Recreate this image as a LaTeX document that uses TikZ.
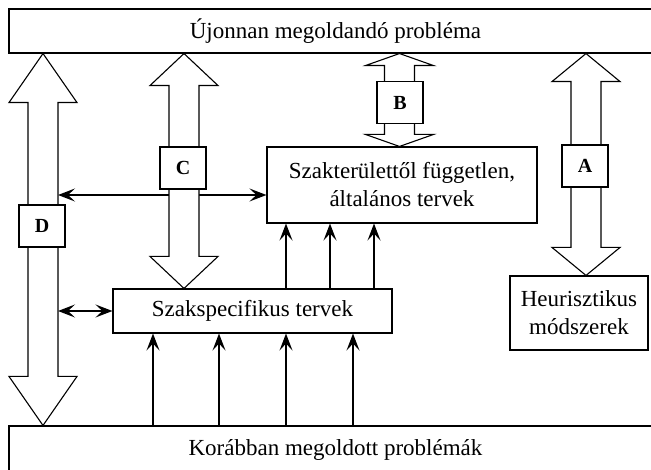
\documentclass[tikz,border=0pt]{standalone}
\usepackage{fontspec}
\setmainfont{Liberation Serif}
\usetikzlibrary{positioning,arrows.meta,calc}

% broad two-headed arrow: x, upper node, lower node, head length
\newcommand{\bigarrow}[4]{%
  \coordinate (tipA) at (#1,0 |- #2.south);
  \coordinate (tipB) at (#1,0 |- #3.north);
  \draw[block] (tipA) -- ++(34,#4) -- ++(-19,0) -- ($(tipB)+(15,-#4)$)
    -- ++(19,0) -- (tipB) -- ++(-34,-#4) -- ++(19,0)
    -- ($(tipA)+(-15,#4)$) -- ++(-19,0) -- cycle;
}

\begin{document}
\begin{tikzpicture}[x=1pt, y=-1pt,
  box/.style={draw, line width=1.1pt, align=center, inner sep=0pt,
    font=\fontsize{23}{28}\selectfont},
  tag/.style={draw, fill=white, line width=1.1pt, minimum width=46pt,
    minimum height=42pt, inner sep=0pt, font=\fontsize{20}{24}\selectfont\bfseries},
  link/.style={line width=1.3pt},
  block/.style={draw, fill=white, line width=1.1pt, line join=miter},
  >={Stealth[length=17pt, width=13pt, inset=7pt]}
]
\useasboundingbox (0,0) rectangle (651,470);

\node[box, minimum width=653pt, minimum height=44pt] (new) at (335.5,31)
  {Újonnan megoldandó probléma};
\node[box, minimum width=653pt, minimum height=48pt] (old) at (335.5,450)
  {Korábban megoldott problémák};
\node[box, minimum width=270pt, minimum height=76pt] (general) at (402,185)
  {Szakterülettől független,\\ általános tervek};
\node[box, minimum width=279pt, minimum height=44pt] (spec) at (252.5,311)
  {Szakspecifikus tervek};
\node[box, minimum width=138pt, minimum height=74pt] (heur) at (579,313)
  {Heurisztikus\\ módszerek};

% thin connectors
\foreach \x in {153,219,286,353}
  \draw[link, ->] (\x,0 |- old.north) -- (\x,0 |- spec.south);
\foreach \x in {286,330,374}
  \draw[link, ->] (\x,0 |- spec.north) -- (\x,0 |- general.south);
\coordinate (dC) at (58,195);
\coordinate (dS) at (58,311);
\draw[link, <->] (dC) -- (dC -| general.west);
\draw[link, <->] (dS) -- (spec.west);

% broad arrows
\bigarrow{43}{new}{old}{49}
\bigarrow{184}{new}{spec}{32}
\bigarrow{399.5}{new}{general}{12}
\bigarrow{586}{new}{heur}{28}

\node[tag] (tagA) at (585,166) {A};
\node[tag] (tagB) at (400,102.5) {B};
\node[tag] (tagC) at (183,168) {C};
\node[tag] (tagD) at (42,226) {D};
\end{tikzpicture}
\end{document}
